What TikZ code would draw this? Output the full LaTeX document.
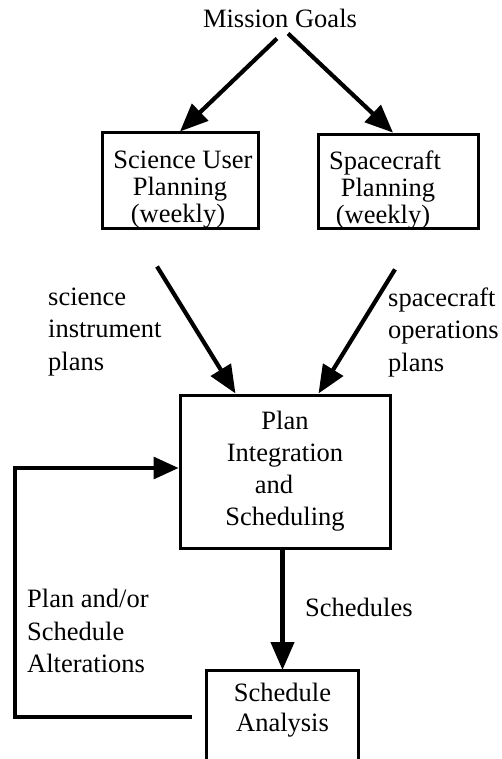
\documentclass[tikz,border=0pt]{standalone}
\usepackage{fontspec}
\setmainfont{Liberation Serif}
\usetikzlibrary{arrows.meta}
\newcommand{\padr}[1]{\mbox{\hspace{#1}}}
\begin{document}
\begin{tikzpicture}[x=1pt,y=1pt,
  every node/.style={font=\fontsize{26.5}{31}\selectfont, inner sep=0pt},
  box/.style={draw, line width=3pt, align=center},
  arr/.style={line width=4.2pt, -{Triangle[length=28pt,width=23pt]}},
  fbarr/.style={line width=3.2pt, line join=miter, -{Triangle[length=25pt,width=22pt]}},
  lbl/.style={align=left, anchor=west, font=\fontsize{26.5}{32.5}\selectfont}]
\useasboundingbox (0,0) rectangle (501,-759);
\node (mg) at (280,-18) {Mission Goals};
\node[box, minimum width=156pt, minimum height=95pt, font=\fontsize{26.5}{27}\selectfont] (sci) at (180,-180.5) {\rule{0pt}{35pt}\padr{6pt}Science User\\Planning\\(weekly)\padr{4pt}};
\node[box, minimum width=160pt, minimum height=93pt, font=\fontsize{26.5}{27}\selectfont] (sc) at (398,-181.5) {\rule{0pt}{35pt}Spacecraft\padr{26pt}\\Planning\padr{20pt}\\(weekly)\padr{30pt}};
\node[box, minimum width=210pt, minimum height=153pt, font=\fontsize{26.5}{32}\selectfont] (pi) at (285,-471.5) {Plan\\Integration\\and\padr{22pt}\\Scheduling};
\node[minimum width=151pt, inner ysep=13pt, anchor=north, align=center, font=\fontsize{26.5}{30}\selectfont] (sa) at (282.5,-670) {Schedule\\Analysis};
\coordinate (bot) at (0,-762);
\draw[line width=3pt] (sa.north west |- bot) -- (sa.north west) -- (sa.north east) -- (sa.north east |- bot);

\draw[arr] ([shift={(-3,-11)}]mg.south) -- (sci.north);
\draw[arr] ([shift={(8,-6)}]mg.south) -- ([xshift=-5pt]sc.north);
\draw[arr] ([shift={(-23,-37)}]sci.south) -- ([xshift=57pt]pi.north west);
\draw[arr] ([shift={(-3,-39)}]sc.south) -- ([xshift=140pt]pi.north west);
\draw[arr] (pi.south -| sa.north) -- (sa.north);
\coordinate (fb) at (192,-717);
\coordinate (fbc) at (15,-717);
\draw[fbarr] (fb) -- (fbc) |- ([yshift=3.5pt]pi.west);

\node[lbl] (l1) at (48,-332) {science\\instrument\\plans};
\node[lbl] (l2) at (388,-332) {spacecraft\\operations\\plans};
\node[lbl] (l3) at (305,-607) {Schedules};
\node[lbl] (l4) at (27,-631) {Plan and/or\\Schedule\\Alterations};
\end{tikzpicture}
\end{document}
